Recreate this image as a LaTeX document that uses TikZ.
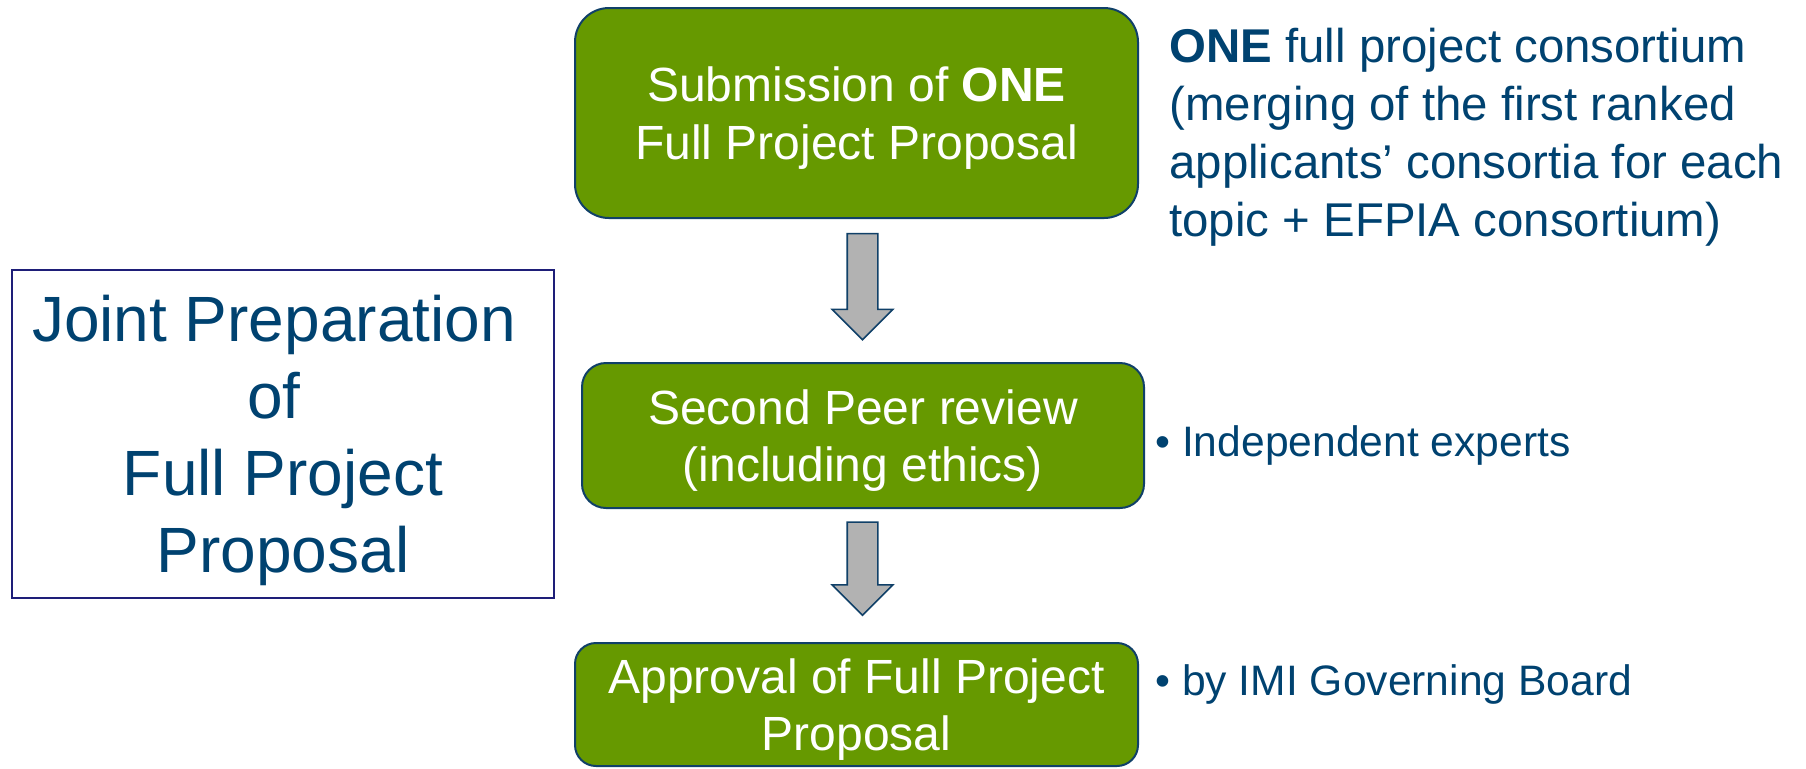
\documentclass[tikz,border=0pt]{standalone}
\usepackage{fontspec}
\setmainfont{Liberation Sans}
\usetikzlibrary{shapes.arrows,positioning}

\definecolor{stepgreen}{RGB}{102,153,0}
\definecolor{edgeblue}{RGB}{16,64,104}
\definecolor{inkblue}{RGB}{0,66,112}
\definecolor{framenavy}{RGB}{30,30,120}
\definecolor{arrowgrey}{RGB}{178,178,178}

\begin{document}
\begin{tikzpicture}[
    x = 0.5pt, y = -0.5pt, % one unit per pixel, y going down
    stepbox/.style = {draw = edgeblue, line width = 1pt, fill = stepgreen,
        text = white, align = center, inner sep = 0pt, text depth = 0pt,
        minimum width = 281.5pt, font = \fontsize{24}{28.8}\selectfont},
    downarrow/.style = {single arrow, draw = edgeblue, line width = 0.8pt,
        fill = arrowgrey, rotate = -90, inner xsep = 0pt, inner ysep = 7.25pt,
        minimum width = 29.5pt, single arrow head extend = 7.5pt,
        single arrow tip angle = 90, single arrow head indent = 0pt},
    note/.style = {text = inkblue, align = left, inner sep = 0pt}
    ]

    \useasboundingbox (0,0) rectangle (1806,768);

    % the three steps
    \node[stepbox, minimum height = 105pt, rounded corners = 17pt] (submit) at (856.5,113)
        {Submission of \textbf{ONE}\\Full Project Proposal};
    \node[stepbox, minimum height = 72.5pt, minimum width = 281pt, rounded corners = 12pt] (review) at (863,435.5)
        {Second Peer review\\(including ethics)};
    \node[stepbox, minimum height = 61.5pt, rounded corners = 10.5pt] (approve) at (856.5,704.5)
        {Approval of Full Project\\Proposal};

    % block arrows between the steps
    \node[downarrow, minimum height = 53pt] (arrowA) at (862.5,279) {};
    \node[downarrow, minimum height = 46.5pt] (arrowB) at (862.5,561) {};

    % frame on the left
    \node[draw = framenavy, line width = 1pt, minimum width = 271pt, minimum height = 164pt,
        inner sep = 0pt] (joint) at (282.75,434) {};
    \node[align = center, text = inkblue, inner sep = 0pt, text depth = 0pt,
        font = \fontsize{32}{38.5}\selectfont] (jointtext) at (274,434)
        {Joint Preparation\\of\\\hspace*{9pt}Full Project\\\hspace*{9pt}Proposal};

    % notes on the right
    \node[note, anchor = north west, font = \fontsize{23.7}{28.9}\selectfont] (consortium) at (1169,28)
        {\textbf{ONE} full project consortium\\(merging of the first ranked\\applicants’ consortia for each\\topic + EFPIA consortium)};
    \node[note, anchor = base west, font = \fontsize{21.3}{25}\selectfont] (experts) at (1155,456)
        {• Independent experts};
    \node[note, anchor = base west, font = \fontsize{21.3}{25}\selectfont] (board) at (1155,695)
        {• by IMI Governing Board};

\end{tikzpicture}
\end{document}
